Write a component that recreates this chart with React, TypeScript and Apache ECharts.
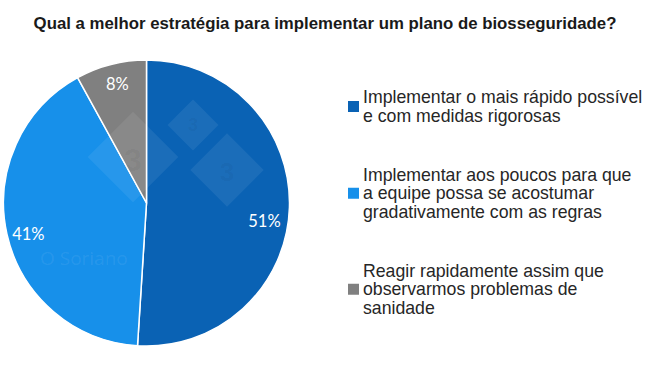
import React, { useEffect, useRef } from "react";
import * as echarts from "echarts";

const title = "Qual a melhor estratégia para implementar um plano de biosseguridade?";
const categories = [
  "Implementar o mais rápido possível\ne com medidas rigorosas",
  "Implementar aos poucos para que\na equipe possa se acostumar\ngradativamente com as regras",
  "Reagir rapidamente assim que\nobservarmos problemas de\nsanidade",
];
const values = [51, 41, 8];
const colors = ["#0a62b4", "#1790ea", "#808080"];

export default function App() {
  const ref = useRef<HTMLDivElement>(null);
  useEffect(() => {
    document.body.style.margin = "0";
    const chart = echarts.init(ref.current!, null, { renderer: "svg" });
    const data = categories.map((name, i) => ({
      name,
      value: values[i],
      itemStyle: { color: colors[i] },
    }));
    const wm = "rgba(255,255,255,0.07)";
    const labelOffsets = [[-3, 14], [0, 5], [1, -2]];
    chart.setOption({
      animation: false,
      backgroundColor: "#ffffff",
      title: {
        text: title,
        left: "center",
        top: 10,
        textStyle: {
          fontFamily: "Liberation Sans, Arial, sans-serif",
          fontSize: 16.8,
          fontWeight: "bold",
          color: "#1a1a1a",
        },
      },
      legend: {
        orient: "vertical",
        left: 346,
        top: 88,
        padding: 0,
        itemWidth: 13,
        itemHeight: 13,
        itemGap: 40.5,
        icon: "rect",
        selectedMode: false,
        data: categories,
        textStyle: {
          fontFamily: "Liberation Sans, Arial, sans-serif",
          fontSize: 17.7,
          lineHeight: 18.5,
          color: "#262626",
          padding: [0, 0, 0, -2],
        },
      },
      series: [
        {
          type: "pie",
          center: [146.5, 203],
          radius: [0, 143],
          startAngle: 90,
          clockwise: true,
          silent: true,
          label: { show: false },
          labelLine: { show: false },
          itemStyle: { borderColor: "#ffffff", borderWidth: 1.5 },
          emphasis: { disabled: true },
          data,
        },
        {
          type: "pie",
          center: [146.5, 203],
          radius: [93, 143],
          startAngle: 90,
          clockwise: true,
          silent: true,
          legendHoverLink: false,
          label: {
            show: true,
            position: "inside",
            formatter: "{c}%",
            color: "#ffffff",
            fontFamily: "Lato, Open Sans, sans-serif",
            fontSize: 16.5,
          },
          labelLine: { show: false },
          itemStyle: { color: "rgba(0,0,0,0)" },
          emphasis: { disabled: true },
          data: categories.map((name, i) => ({
            name,
            value: values[i],
            itemStyle: { color: "rgba(0,0,0,0)" },
            label: { offset: labelOffsets[i] },
          })),
        },
      ],
      graphic: [
        {
          type: "rect",
          x: 193,
          y: 125,
          rotation: Math.PI / 4,
          shape: { x: -18, y: -18, width: 36, height: 36 },
          style: { fill: wm },
          silent: true,
          z: 10,
        },
        {
          type: "rect",
          x: 227,
          y: 170,
          rotation: Math.PI / 4,
          shape: { x: -26, y: -26, width: 52, height: 52 },
          style: { fill: wm },
          silent: true,
          z: 10,
        },
        {
          type: "rect",
          x: 133,
          y: 157,
          rotation: Math.PI / 4,
          shape: { x: -32, y: -32, width: 64, height: 64 },
          style: { fill: wm },
          silent: true,
          z: 10,
        },
        {
          type: "text",
          x: 193,
          y: 125,
          style: { text: "3", fill: "rgba(0,0,0,0.05)", fontSize: 18, fontWeight: "bold", align: "center", verticalAlign: "middle", fontFamily: "Liberation Sans, Arial" },
          silent: true,
          z: 11,
        },
        {
          type: "text",
          x: 227,
          y: 172,
          style: { text: "3", fill: "rgba(0,0,0,0.05)", fontSize: 26, fontWeight: "bold", align: "center", verticalAlign: "middle", fontFamily: "Liberation Sans, Arial" },
          silent: true,
          z: 11,
        },
        {
          type: "text",
          x: 133,
          y: 160,
          style: { text: "3", fill: "rgba(0,0,0,0.04)", fontSize: 32, fontWeight: "bold", align: "center", verticalAlign: "middle", fontFamily: "Liberation Sans, Arial" },
          silent: true,
          z: 11,
        },
        {
          type: "text",
          x: 40,
          y: 258,
          style: { text: "O Soriano", fill: "rgba(255,255,255,0.08)", fontSize: 19, align: "left", verticalAlign: "middle", fontFamily: "Open Sans, sans-serif" },
          silent: true,
          z: 11,
        },
      ],
    });
    return () => chart.dispose();
  }, []);
  return (
    <div
      ref={ref}
      style={{ position: "fixed", left: 0, top: 0, width: 650, height: 366 }}
    />
  );
}
